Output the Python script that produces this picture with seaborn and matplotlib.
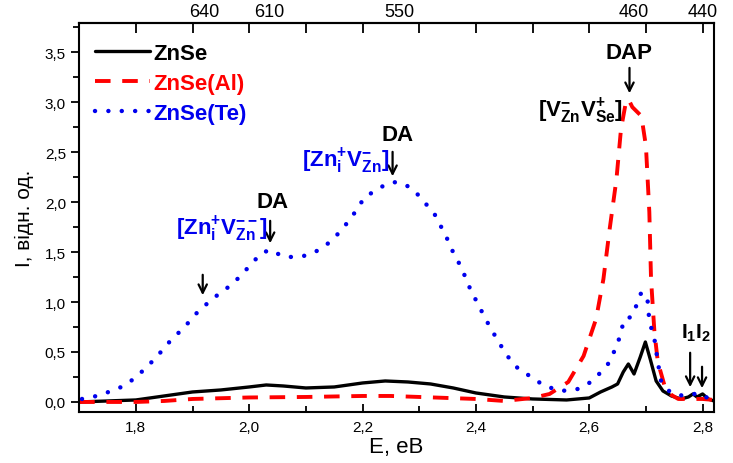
import numpy as np
import pandas as pd
import matplotlib
matplotlib.use("Agg")
import matplotlib.pyplot as plt
import seaborn as sns
from matplotlib.ticker import MultipleLocator, FuncFormatter

# ---------------- data ----------------
zn_x = [1.70, 1.75, 1.80, 1.85, 1.90, 1.95, 2.00, 2.03, 2.06, 2.10, 2.15, 2.20, 2.24, 2.28,
        2.32, 2.36, 2.40, 2.45, 2.50, 2.56, 2.60, 2.62, 2.64, 2.65, 2.66, 2.669, 2.679, 2.69,
        2.699, 2.708, 2.718, 2.73, 2.745, 2.762, 2.775, 2.783, 2.79, 2.80, 2.81, 2.82]
zn_y = [0.00, 0.01, 0.02, 0.06, 0.10, 0.12, 0.15, 0.17, 0.16, 0.14, 0.15, 0.19, 0.21, 0.20,
        0.18, 0.14, 0.09, 0.05, 0.03, 0.02, 0.04, 0.10, 0.15, 0.18, 0.30, 0.38, 0.28, 0.45,
        0.60, 0.42, 0.21, 0.11, 0.06, 0.03, 0.05, 0.08, 0.05, 0.08, 0.03, 0.01]

al_x = [1.70, 1.80, 1.85, 1.90, 2.00, 2.10, 2.20, 2.25, 2.30, 2.35, 2.40, 2.45, 2.50, 2.53,
        2.563, 2.59, 2.612, 2.625, 2.636, 2.648, 2.656, 2.664, 2.669, 2.676, 2.692, 2.70,
        2.706, 2.709, 2.715, 2.721, 2.733, 2.745, 2.757, 2.78, 2.80, 2.82]
al_y = [0.00, 0.00, 0.01, 0.03, 0.045, 0.05, 0.06, 0.06, 0.05, 0.04, 0.03, 0.01, 0.04, 0.08,
        0.20, 0.46, 0.83, 1.23, 1.73, 2.23, 2.73, 2.98, 3.03, 2.95, 2.86, 2.56,
        1.90, 1.23, 0.70, 0.40, 0.16, 0.07, 0.03, 0.03, 0.03, 0.02]

te_x = [1.705, 1.731, 1.752, 1.779, 1.796, 1.81, 1.837, 1.851, 1.869, 1.885, 1.899, 1.916,
        1.934, 1.948, 1.966, 1.981, 1.999, 2.01, 2.025, 2.04, 2.057, 2.075, 2.096, 2.119,
        2.136, 2.16, 2.181, 2.204, 2.239, 2.255, 2.274, 2.292, 2.309, 2.327, 2.348, 2.357,
        2.371, 2.383, 2.392, 2.404, 2.415, 2.427, 2.44, 2.457, 2.475, 2.498, 2.521, 2.551,
        2.58, 2.603, 2.621, 2.636, 2.651, 2.662, 2.674, 2.686, 2.692, 2.703, 2.706, 2.715,
        2.721, 2.727, 2.744, 2.767, 2.785, 2.80, 2.81]
te_y = [0.03, 0.06, 0.10, 0.16, 0.23, 0.30, 0.45, 0.55, 0.66, 0.74, 0.84, 0.94,
        1.02, 1.09, 1.16, 1.24, 1.35, 1.42, 1.50, 1.52, 1.46, 1.45, 1.46, 1.51,
        1.57, 1.70, 1.85, 2.05, 2.17, 2.20, 2.18, 2.11, 2.00, 1.88, 1.65, 1.53,
        1.38, 1.23, 1.10, 0.98, 0.85, 0.73, 0.60, 0.45, 0.33, 0.25, 0.16, 0.11,
        0.13, 0.20, 0.30, 0.40, 0.60, 0.83, 0.85, 1.00, 1.10, 1.01, 0.81, 0.63,
        0.40, 0.20, 0.09, 0.06, 0.08, 0.08, 0.03]

series_names = ["ZnSe", "ZnSe(Al)", "ZnSe(Te)"]
top_labels = ["640", "610", "550", "460", "440"]
top_label_pos = [1.92, 2.036, 2.265, 2.678, 2.80]

# ---------------- style ----------------
sns.set_style("ticks")
plt.rcParams["font.family"] = ["Liberation Sans", "DejaVu Sans"]
plt.rcParams["mathtext.fontset"] = "custom"
plt.rcParams["mathtext.rm"] = "Liberation Sans"
plt.rcParams["mathtext.bf"] = "Liberation Sans:bold"
plt.rcParams["mathtext.it"] = "Liberation Sans:italic"
for k in ["text.color", "axes.labelcolor", "xtick.color", "ytick.color", "axes.edgecolor"]:
    plt.rcParams[k] = "black"

fig = plt.figure(figsize=(7.33, 4.64), dpi=100)
ax = fig.add_axes([0.108, 0.110, 0.866, 0.838])

colors = ["black", "#ff0000", "#0000ee"]
df_zn = pd.DataFrame({"E": zn_x, "I": zn_y})
df_al = pd.DataFrame({"E": al_x, "I": al_y})
df_te = pd.DataFrame({"E": te_x, "I": te_y})

sns.lineplot(data=df_zn, x="E", y="I", ax=ax, color=colors[0], lw=2.4,
             label=series_names[0])
sns.lineplot(data=df_al, x="E", y="I", ax=ax, color=colors[1], lw=2.8,
             label=series_names[1])
sns.lineplot(data=df_te, x="E", y="I", ax=ax, color=colors[2], lw=3.2,
             label=series_names[2])
lines = ax.get_lines()
lines[1].set_dashes([4, 3])
lines[2].set_dashes([0.01, 3.0])
lines[2].set_dash_capstyle("round")

ax.set_xlim(1.70, 2.82)
ax.set_ylim(-0.1, 3.79)

fmt = FuncFormatter(lambda v, p: f"{v:.1f}".replace(".", ","))
ax.xaxis.set_major_locator(MultipleLocator(0.2))
ax.xaxis.set_minor_locator(MultipleLocator(0.1))
ax.yaxis.set_major_locator(MultipleLocator(0.5))
ax.yaxis.set_minor_locator(MultipleLocator(0.25))
ax.xaxis.set_major_formatter(fmt)
ax.yaxis.set_major_formatter(fmt)
ax.tick_params(axis="x", which="major", direction="in", length=6, width=1.3,
               labelsize=11, pad=6, top=False)
ax.tick_params(axis="x", which="minor", direction="in", length=4, width=1.3, top=False)
ax.tick_params(axis="y", which="major", direction="out", length=6, width=1.3,
               labelsize=11)
ax.tick_params(axis="y", which="minor", direction="out", length=4, width=1.3)
# top ticks every 0.1, inward
secx = ax.secondary_xaxis("top")
secx.xaxis.set_major_locator(MultipleLocator(0.1))
secx.tick_params(direction="in", length=7, width=1.3, labeltop=False)
secx.spines["top"].set_linewidth(1.5)
for s in ax.spines.values():
    s.set_linewidth(1.5)

for lab, xp in zip(top_labels, top_label_pos):
    ax.text(xp, 1.008, lab, transform=ax.get_xaxis_transform(), ha="center",
            va="bottom", fontsize=13)

ax.set_xlabel("E, eB", fontsize=16, labelpad=1)
ax.set_ylabel("I, відн. од.", fontsize=15, labelpad=8)

leg = ax.legend(loc="upper left", frameon=False, handlelength=2.5, handletextpad=0.15,
                labelspacing=0.42, borderaxespad=0.3, bbox_to_anchor=(0.0, 0.99),
                prop={"weight": "bold", "size": 16})
for t, c in zip(leg.get_texts(), colors):
    t.set_color(c)

arrow = dict(arrowstyle="->", lw=1.6, color="black", mutation_scale=15)

def down_arrow(x, y_top, y_tip):
    ax.annotate("", xy=(x, y_tip), xytext=(x, y_top), arrowprops=arrow)

fs = 16
# DAP
ax.text(2.671, 3.50, "DAP", fontsize=fs, fontweight="bold", ha="center", va="center")
down_arrow(2.671, 3.37, 3.06)
ax.text(2.660, 2.92, r"$\mathbf{[V^{-}_{Zn}V^{+}_{Se}]}$", fontsize=fs,
        ha="right", va="center", color="black")
# DA 2.25
ax.text(2.262, 2.68, "DA", fontsize=fs, fontweight="bold", ha="center", va="center")
down_arrow(2.253, 2.53, 2.23)
ax.text(2.247, 2.42, r"$\mathbf{[Zn^{+}_{i}V^{-}_{Zn}]}$", fontsize=fs,
        ha="right", va="center", color=colors[2])
# DA 2.04
ax.text(2.042, 2.01, "DA", fontsize=fs, fontweight="bold", ha="center", va="center")
down_arrow(2.037, 1.84, 1.56)
ax.text(2.032, 1.74, r"$\mathbf{[Zn^{+}_{i}V^{--}_{Zn}]}$", fontsize=fs,
        ha="right", va="center", color=colors[2])
# lone arrow
down_arrow(1.918, 1.30, 1.04)
# I1 I2
ax.text(2.789, 0.70, r"$\mathbf{I_{1}I_{2}}$", fontsize=15, ha="center", va="center")
down_arrow(2.778, 0.52, 0.12)
down_arrow(2.799, 0.38, 0.11)

fig.savefig("out.png", dpi=100)
